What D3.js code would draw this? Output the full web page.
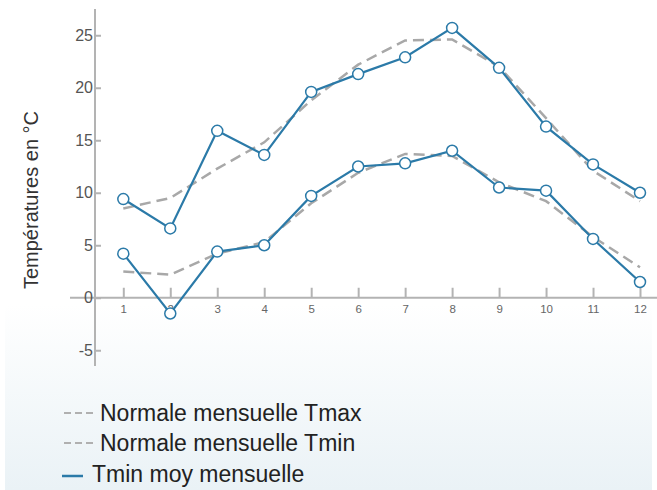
<!DOCTYPE html>
<html>
<head>
<meta charset="utf-8">
<script src="https://cdn.jsdelivr.net/npm/d3@7"></script>
<style>
  body { margin: 0; background: #fff; }
  svg { display: block; font-family: "Liberation Sans", Arial, sans-serif; }
</style>
</head>
<body>
<div id="chart"></div>
<script>
// monthly temperatures (°C)
const months = [1, 2, 3, 4, 5, 6, 7, 8, 9, 10, 11, 12];
const tmaxMoy = [9.4, 6.6, 15.9, 13.6, 19.6, 21.3, 22.9, 25.7, 21.9, 16.3, 12.7, 10.0];
const tminMoy = [4.2, -1.5, 4.4, 5.0, 9.7, 12.5, 12.8, 14.0, 10.5, 10.2, 5.6, 1.5];
const normTmax = [8.5, 9.5, 12.3, 14.8, 18.8, 22.2, 24.5, 24.6, 22.0, 17.1, 12.1, 9.2];
const normTmin = [2.5, 2.2, 4.2, 5.3, 9.0, 11.9, 13.7, 13.5, 11.0, 9.2, 5.8, 2.9];
const yTicks = [-5, 0, 5, 10, 15, 20, 25];
const legendLabels = ["Normale mensuelle Tmax", "Normale mensuelle Tmin", "Tmin moy mensuelle"];

const width = 657, height = 490;
const blue = "#2b7aa8", grey = "#a8a8a8", axisGrey = "#b3b3b3";

const svg = d3.select("#chart").append("svg")
    .attr("width", width)
    .attr("height", height);

// background fade
const grad = svg.append("defs").append("linearGradient")
    .attr("id", "bg").attr("x1", 0).attr("y1", 0).attr("x2", 0).attr("y2", 1);
grad.append("stop").attr("offset", "0.62").attr("stop-color", "#ffffff");
grad.append("stop").attr("offset", "1").attr("stop-color", "#eaf2f6");
svg.append("rect")
    .attr("x", 5).attr("y", 0)
    .attr("width", width - 10).attr("height", height)
    .attr("fill", "url(#bg)");

const x = d3.scaleLinear().domain([1, 12]).range([123.3, 640]);
const y = d3.scaleLinear().domain([-6.5, 27.5]).range([366, 9]);

// axis lines
svg.append("line")
    .attr("x1", 70).attr("x2", width)
    .attr("y1", y(0)).attr("y2", y(0))
    .attr("stroke", axisGrey).attr("stroke-width", 2);
svg.append("line")
    .attr("x1", 95).attr("x2", 95)
    .attr("y1", y.range()[1]).attr("y2", y.range()[0])
    .attr("stroke", axisGrey).attr("stroke-width", 2);

// x axis ticks point upward
const xAxis = svg.append("g")
    .attr("transform", `translate(0,${y(0)})`)
    .call(d3.axisBottom(x).tickValues(months).tickSizeInner(-10).tickSizeOuter(0).tickPadding(7));
xAxis.select(".domain").remove();
xAxis.selectAll(".tick line").attr("stroke", axisGrey).attr("stroke-width", 2);
xAxis.selectAll(".tick text").attr("fill", "#666").style("font-size", "11.5px");

// y axis ticks point right
const yAxis = svg.append("g")
    .attr("transform", "translate(95,0)")
    .call(d3.axisLeft(y).tickValues(yTicks).tickFormat(d => String(d))
        .tickSizeInner(-6).tickSizeOuter(0).tickPadding(2));
yAxis.select(".domain").remove();
yAxis.selectAll(".tick line").attr("stroke", axisGrey).attr("stroke-width", 2);
yAxis.selectAll(".tick text").attr("fill", "#555").style("font-size", "16px");

svg.append("text")
    .attr("transform", "translate(38,200) rotate(-90)")
    .attr("text-anchor", "middle")
    .attr("fill", "#333")
    .style("font-size", "20px")
    .text("Températures en °C");

const line = d3.line()
    .x((d, i) => x(months[i]))
    .y(d => y(d));

// normals, dashed
[normTmax, normTmin].forEach(s => {
    svg.append("path")
        .attr("d", line(s))
        .attr("fill", "none")
        .attr("stroke", grey)
        .attr("stroke-width", 2.5)
        .attr("stroke-dasharray", "11,6");
});

// monthly means
[tmaxMoy, tminMoy].forEach(s => {
    svg.append("path")
        .attr("d", line(s))
        .attr("fill", "none")
        .attr("stroke", blue)
        .attr("stroke-width", 2.2);
    svg.append("g").selectAll("circle")
        .data(s)
        .join("circle")
        .attr("cx", (d, i) => x(months[i]))
        .attr("cy", d => y(d))
        .attr("r", 5.5)
        .attr("fill", "#fff")
        .attr("stroke", blue)
        .attr("stroke-width", 1.5);
});

// legend
const legend = svg.append("g");
const rowsY = [413, 443, 474];
legendLabels.forEach((lab, i) => {
    const g = legend.append("g");
    if (i < 2) {
        g.append("line")
            .attr("x1", 64).attr("x2", 94)
            .attr("y1", rowsY[i]).attr("y2", rowsY[i])
            .attr("stroke", "#b0b0b0").attr("stroke-width", 2)
            .attr("stroke-dasharray", "7,4");
        g.append("text").attr("x", 100).attr("y", rowsY[i] + 7.5)
            .attr("fill", "#222").style("font-size", "23px").text(lab);
    } else {
        g.append("line")
            .attr("x1", 62).attr("x2", 83)
            .attr("y1", rowsY[i] + 2).attr("y2", rowsY[i] + 2)
            .attr("stroke", blue).attr("stroke-width", 2.5);
        g.append("text").attr("x", 92).attr("y", rowsY[i] + 7.5)
            .attr("fill", "#222").style("font-size", "23px").text(lab);
    }
});
</script>
</body>
</html>
